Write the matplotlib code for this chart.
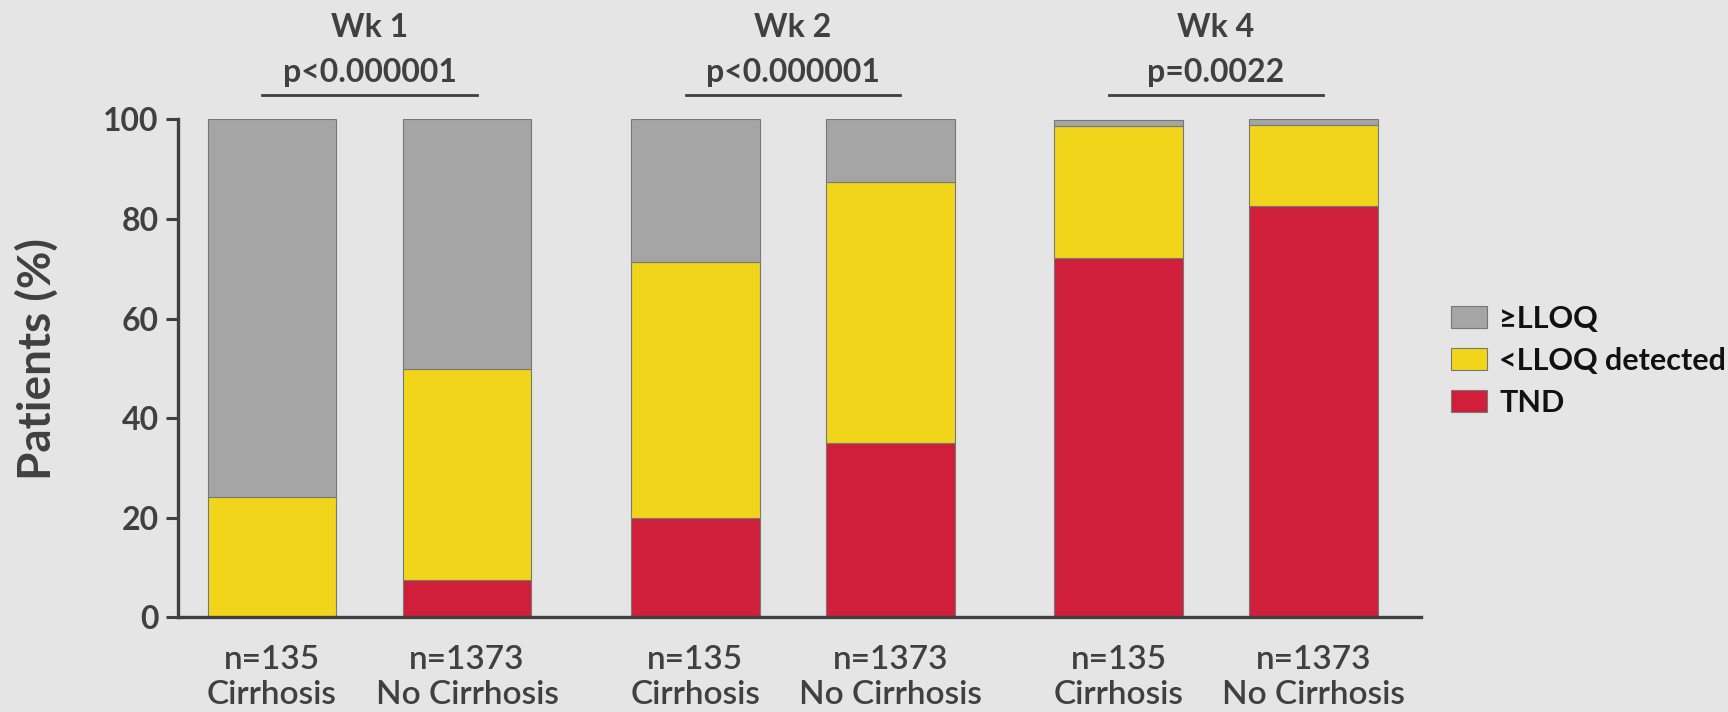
import numpy as np
import matplotlib.pyplot as plt
from matplotlib.patches import Patch

# % of patients per HCV RNA category, by week and cirrhosis status
weeks = ["Wk 1", "Wk 2", "Wk 4"]
pvals = ["p<0.000001", "p<0.000001", "p=0.0022"]
groups = ["n=135\nCirrhosis", "n=1373\nNo Cirrhosis"]

tnd = [0.0, 7.5, 20.0, 35.0, 72.2, 82.6]
below_lloq = [24.1, 42.3, 51.4, 52.4, 26.5, 16.3]
above_lloq = [75.9, 50.2, 28.6, 12.6, 1.1, 1.1]

bg = "#e5e5e5"
dark = "#404040"
colors = {"TND": "#cf1f3a", "<LLOQ detected": "#f1d51a", "≥LLOQ": "#a5a5a5"}

plt.rcParams['font.family'] = ['Lato', 'DejaVu Sans']

fig = plt.figure(figsize=(17.28, 7.12), dpi=100, facecolor=bg)
ax = fig.add_axes([0.1030, 0.133, 0.7193, 0.6994], facecolor=bg)

gap = 2.17
x = np.array([g * gap + j for g in range(3) for j in range(2)])
w = 0.66
ec = "#777777"

ax.bar(x, tnd, w, color=colors["TND"], edgecolor=ec, linewidth=0.8)
ax.bar(x, below_lloq, w, bottom=tnd, color=colors["<LLOQ detected"], edgecolor=ec, linewidth=0.8)
ax.bar(x, above_lloq, w, bottom=np.array(tnd) + np.array(below_lloq),
       color=colors["≥LLOQ"], edgecolor=ec, linewidth=0.8)

ax.set_xlim(-0.482, 5.89)
ax.set_ylim(0, 100)
ax.set_yticks([0, 20, 40, 60, 80, 100])
ax.set_xticks(x)
ax.set_xticklabels(groups * 3, fontsize=24, fontweight='semibold', color=dark, linespacing=1.22)
ax.tick_params(axis='x', length=0, pad=20)
ax.tick_params(axis='y', length=9, width=2.2, color=dark, labelsize=23, labelcolor=dark, pad=5)
for lab in ax.get_yticklabels():
    lab.set_fontweight('bold')

for s in ['top', 'right']:
    ax.spines[s].set_visible(False)
for s in ['left', 'bottom']:
    ax.spines[s].set_color(dark)
    ax.spines[s].set_linewidth(2.4)

fig.text(37 / 1728, 1 - 359 / 712, "Patients (%)", rotation=90, ha='center', va='center',
         fontsize=33, fontweight='bold', color=dark)

# week headers with p-values and underline
for g in range(3):
    c = g * gap + 0.5
    ax.text(c, 118.5, weeks[g], ha='center', va='center', fontsize=23,
            fontweight='bold', color=dark, clip_on=False)
    ax.text(c, 109.5, pvals[g], ha='center', va='center', fontsize=23,
            fontweight='bold', color=dark, clip_on=False)
    ax.plot([c - 0.55, c + 0.55], [104.9, 104.9], color=dark, lw=2, clip_on=False)

handles = [Patch(facecolor=colors[k], edgecolor=ec, linewidth=0.8)
           for k in ["≥LLOQ", "<LLOQ detected", "TND"]]
leg = fig.legend(handles, ["≥LLOQ", "<LLOQ detected", "TND"], loc='center left',
                 bbox_to_anchor=(0.8235, 0.493), frameon=False,
                 prop={'size': 22, 'weight': 'bold'}, handlelength=1.2, handleheight=0.72,
                 labelspacing=0.46, handletextpad=0.4)
for t in leg.get_texts():
    t.set_color("#111111")

fig.savefig("out.png", dpi=100, facecolor=bg)
